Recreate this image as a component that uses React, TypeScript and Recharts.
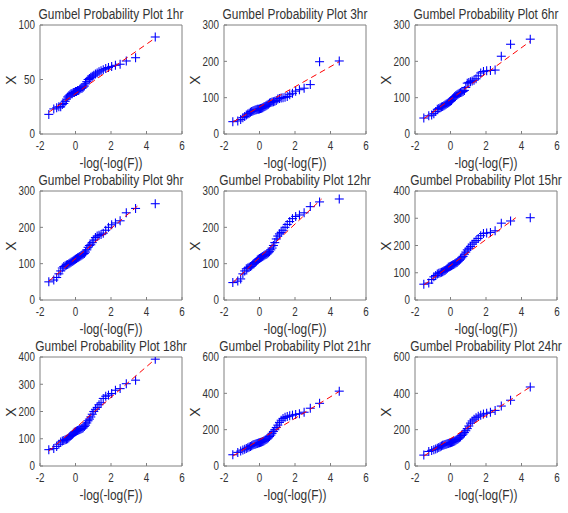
import * as React from 'react';
import { ScatterChart, Scatter, XAxis, YAxis } from 'recharts';

// ============================================================================
// Data
// ============================================================================

// reduced variate -log(-log(F)) of the 45 plotting positions (shared by all panels)
const gumbelX = [
  -1.504, -1.224, -1.061, -0.938, -0.834, -0.743, -0.66, -0.583, -0.511, -0.442,
  -0.375, -0.311, -0.248, -0.186, -0.124, -0.064, -0.003, 0.057, 0.118, 0.179,
  0.24, 0.303, 0.367, 0.431, 0.498, 0.566, 0.636, 0.708, 0.783, 0.862,
  0.944, 1.031, 1.123, 1.22, 1.325, 1.439, 1.564, 1.702, 1.858, 2.037,
  2.25, 2.514, 2.862, 3.384, 4.494,
];

const durations = ['1hr', '3hr', '6hr', '9hr', '12hr', '15hr', '18hr', '21hr', '24hr'];

const rain1hr = [
  18, 23, 24, 25, 25, 27, 28, 30, 32, 34, 35, 36, 37, 37, 38, 38, 39, 39, 40, 40,
  41, 42, 42, 43, 44, 46, 48, 50, 51, 52, 53, 54, 55, 56, 57, 58, 59, 60, 61, 62,
  63, 64, 67, 70, 89,
];
const rain3hr = [
  34, 36, 40, 45, 48, 52, 55, 57, 60, 62, 63, 65, 66, 67, 68, 68, 69, 70, 71, 72,
  74, 76, 78, 80, 82, 85, 87, 88, 89, 90, 92, 96, 98, 99, 100, 101, 103, 108, 112, 118,
  122, 126, 136, 199, 201,
];
const rain6hr = [
  44, 50, 52, 56, 62, 68, 70, 72, 74, 76, 78, 80, 82, 84, 86, 88, 90, 92, 96, 100,
  103, 106, 108, 110, 112, 114, 115, 117, 120, 128, 140, 142, 144, 146, 148, 152, 160, 168, 172, 174,
  175, 176, 214, 247, 261,
];
const rain9hr = [
  50, 55, 62, 72, 80, 88, 92, 94, 96, 98, 100, 102, 104, 106, 108, 110, 112, 114, 116, 118,
  120, 122, 124, 126, 128, 132, 138, 145, 150, 152, 158, 165, 172, 176, 178, 180, 184, 192, 200, 207,
  212, 218, 240, 252, 265,
];
const rain12hr = [
  48, 52, 58, 72, 80, 86, 88, 90, 92, 94, 98, 100, 103, 106, 110, 112, 114, 116, 118, 120,
  122, 124, 125, 127, 130, 133, 138, 143, 150, 158, 168, 176, 182, 186, 192, 200, 208, 216, 224, 230,
  234, 240, 257, 270, 278,
];
const rain15hr = [
  58, 62, 75, 85, 90, 95, 98, 100, 102, 104, 106, 108, 112, 116, 120, 122, 124, 126, 128, 130,
  133, 136, 138, 142, 146, 150, 155, 160, 168, 176, 184, 190, 196, 205, 212, 218, 226, 236, 244, 246,
  248, 254, 282, 290, 302,
];
const rain18hr = [
  60, 64, 72, 80, 88, 92, 94, 96, 98, 100, 104, 108, 112, 116, 120, 124, 126, 128, 130, 132,
  134, 136, 138, 140, 145, 150, 158, 166, 172, 180, 190, 200, 208, 215, 225, 232, 248, 256, 260, 266,
  278, 284, 302, 315, 392,
];
const rain21hr = [
  62, 75, 82, 88, 92, 96, 100, 104, 108, 112, 115, 118, 120, 122, 124, 126, 128, 130, 132, 135,
  138, 142, 146, 150, 155, 162, 170, 180, 190, 200, 212, 225, 240, 252, 262, 268, 272, 276, 280, 284,
  288, 296, 318, 345, 412,
];
const rain24hr = [
  60, 80, 86, 90, 94, 98, 102, 106, 110, 114, 116, 118, 120, 122, 124, 126, 128, 130, 132, 135,
  138, 142, 146, 150, 155, 160, 168, 176, 184, 194, 206, 220, 236, 248, 258, 266, 274, 280, 286, 290,
  296, 306, 330, 362, 435,
];

const rainfall = [rain1hr, rain3hr, rain6hr, rain9hr, rain12hr, rain15hr, rain18hr, rain21hr, rain24hr];

// reference line end points [x, y]
const fitStart = [
  [-1.5, 20], [-1.5, 33], [-1.5, 42], [-1.5, 52], [-1.5, 48],
  [-1.5, 55], [-1.5, 55], [-1.5, 55], [-1.5, 55],
];
const fitEnd = [
  [4.49, 88], [4.49, 199], [4.49, 255], [3.65, 265], [3.5, 278],
  [3.68, 302], [4.49, 392], [4.49, 410], [4.49, 435],
];

const xTicks = [-2, 0, 2, 4, 6];
const yTickSets = [
  [0, 50, 100],
  [0, 100, 200, 300],
  [0, 100, 200, 300],
  [0, 100, 200, 300],
  [0, 100, 200, 300],
  [0, 100, 200, 300, 400],
  [0, 100, 200, 300, 400],
  [0, 200, 400, 600],
  [0, 200, 400, 600],
];

// ============================================================================
// Layout / style
// ============================================================================

const FONT = "'Liberation Sans', Arial, sans-serif";
const TEXT = '#333333';
const AXIS = '#808080';
const BLUE = '#0000ff';
const RED = '#ff0000';
const SQUEEZE = 0.82; // the reference text is horizontally condensed

const colLeft = [40, 224, 415];
const rowTop = [25, 191, 357];
const BOX_W = 142;
const BOX_H = 109;
const Y_AXIS_W = 40;
const X_AXIS_H = 22;
const PAD = 10;

function PlusMarker(props: any) {
  const { cx, cy } = props;
  if (cx == null || cy == null) return <g />;
  return (
    <g>
      <line x1={cx - 4.5} x2={cx + 4.5} y1={cy} y2={cy} stroke={BLUE} strokeWidth={1.1} />
      <line x1={cx} x2={cx} y1={cy - 4.5} y2={cy + 4.5} stroke={BLUE} strokeWidth={1.1} />
    </g>
  );
}

function NoMarker() {
  return <g />;
}

function XTick(props: any) {
  const { x, y, payload } = props;
  return (
    <text
      transform={`translate(${x},${y}) scale(${SQUEEZE},1)`}
      textAnchor="middle"
      dy="0.71em"
      fontSize={12}
      fontFamily={FONT}
      fill={TEXT}
    >
      {payload.value}
    </text>
  );
}

function YTick(props: any) {
  const { x, y, payload } = props;
  return (
    <text
      transform={`translate(${x},${y}) scale(${SQUEEZE},1)`}
      textAnchor="end"
      dy="0.355em"
      fontSize={12}
      fontFamily={FONT}
      fill={TEXT}
    >
      {payload.value}
    </text>
  );
}

const labelStyle: React.CSSProperties = {
  position: 'absolute',
  lineHeight: '14px',
  fontSize: 14,
  fontFamily: FONT,
  color: TEXT,
  textAlign: 'center',
  whiteSpace: 'nowrap',
};

function Panel({ index }: { index: number }) {
  const left = colLeft[index % 3];
  const top = rowTop[Math.floor(index / 3)];
  const yTicks = yTickSets[index];
  const yMax = yTicks[yTicks.length - 1];
  const points = gumbelX.map((x, i) => ({ x, y: rainfall[index][i] }));
  const fit = [
    { x: fitStart[index][0], y: fitStart[index][1] },
    { x: fitEnd[index][0], y: fitEnd[index][1] },
  ];

  return (
    <>
      <div
        style={{
          ...labelStyle,
          left: left - 20,
          width: BOX_W + 40,
          top: top - 18,
          transform: `scaleX(0.85)`,
        }}
      >
        Gumbel Probability Plot {durations[index]}
      </div>
      <div
        style={{
          ...labelStyle,
          left: left,
          width: BOX_W,
          top: top + BOX_H + 22,
          transform: `scaleX(0.85)`,
        }}
      >
        -log(-log(F))
      </div>
      <div
        style={{
          ...labelStyle,
          left: left - 29 - 10,
          width: 20,
          top: top + BOX_H / 2 - 7,
          transform: 'rotate(-90deg)',
        }}
      >
        X
      </div>
      <div style={{ position: 'absolute', left: left - Y_AXIS_W, top: top - 1 - PAD }}>
        <ScatterChart
          width={Y_AXIS_W + BOX_W + 1 + PAD}
          height={PAD + 1 + BOX_H + X_AXIS_H}
          margin={{ top: PAD, right: PAD, bottom: 0, left: 0 }}
        >
          <XAxis
            type="number"
            dataKey="x"
            domain={[-2, 6]}
            ticks={xTicks}
            interval={0}
            allowDataOverflow
            height={X_AXIS_H}
            tickSize={-3}
            tickMargin={10}
            stroke={AXIS}
            tick={<XTick />}
          />
          <YAxis
            type="number"
            dataKey="y"
            domain={[0, yMax]}
            ticks={yTicks}
            interval={0}
            allowDataOverflow
            width={Y_AXIS_W}
            tickSize={-3}
            tickMargin={8}
            stroke={AXIS}
            tick={<YTick />}
          />
          <XAxis
            xAxisId="top"
            orientation="top"
            type="number"
            domain={[-2, 6]}
            ticks={xTicks}
            interval={0}
            height={1}
            tickSize={-3}
            stroke={AXIS}
            tick={false}
          />
          <YAxis
            yAxisId="right"
            orientation="right"
            type="number"
            domain={[0, yMax]}
            ticks={yTicks}
            interval={0}
            width={1}
            tickSize={-3}
            stroke={AXIS}
            tick={false}
          />
          <Scatter data={points} shape={PlusMarker} isAnimationActive={false} />
          <Scatter
            data={fit}
            shape={NoMarker}
            line={{ stroke: RED, strokeWidth: 1, strokeDasharray: '6 4' }}
            isAnimationActive={false}
          />
        </ScatterChart>
      </div>
    </>
  );
}

export default function App() {
  return (
    <div
      style={{
        position: 'absolute',
        left: 0,
        top: 0,
        width: 568,
        height: 513,
        background: '#ffffff',
        overflow: 'hidden',
      }}
    >
      {durations.map((d, i) => (
        <Panel key={d} index={i} />
      ))}
    </div>
  );
}
